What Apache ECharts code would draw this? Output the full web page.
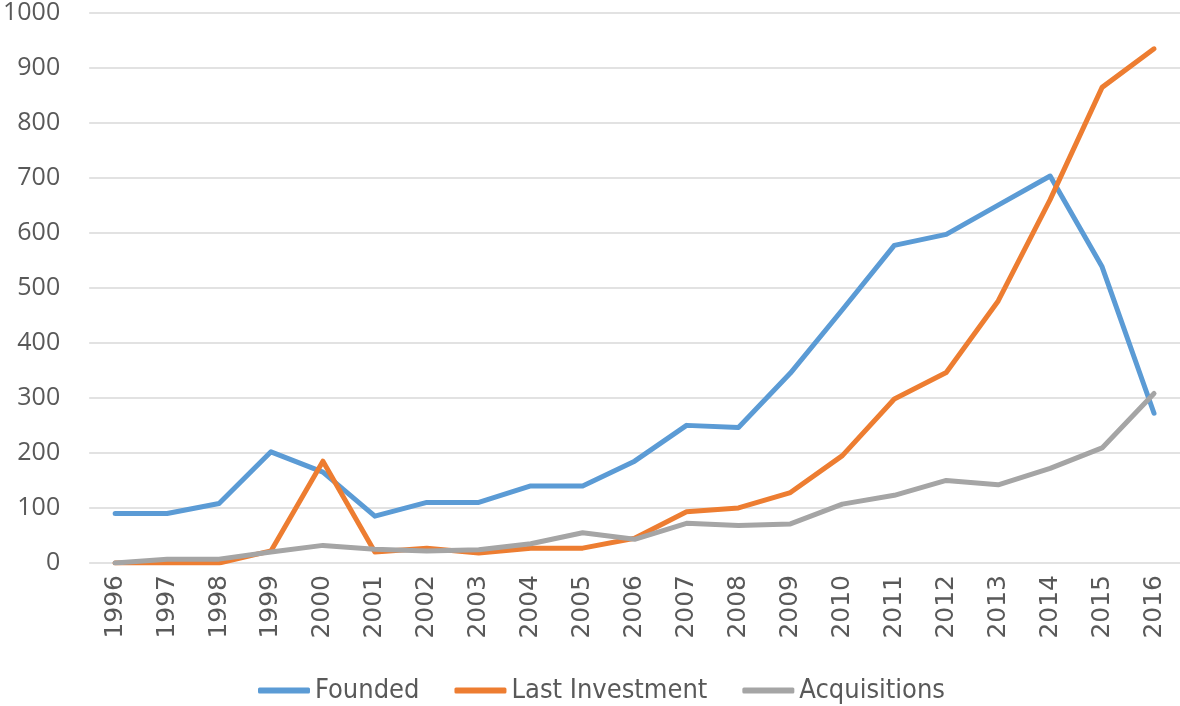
<!DOCTYPE html>
<html>
<head>
<meta charset="utf-8">
<script src="https://cdn.jsdelivr.net/npm/echarts@6/dist/echarts.min.js"></script>
<style>
html,body{margin:0;padding:0;background:#fff;}
#chart{width:1180px;height:706px;}
</style>
</head>
<body>
<div id="chart"></div>
<script>
const years = ['1996','1997','1998','1999','2000','2001','2002','2003','2004','2005','2006','2007','2008','2009','2010','2011','2012','2013','2014','2015','2016'];
const founded = [90,90,108,202,165,85,110,110,140,140,185,250,246,345,460,577,597,650,703,538,272];
const lastInvestment = [0,0,0,22,185,20,27,18,27,27,45,93,100,128,195,298,346,476,660,864,934];
const acquisitions = [0,7,7,20,32,25,22,24,35,55,43,72,68,71,107,123,150,142,172,209,308];
const yTicks = [0,100,200,300,400,500,600,700,800,900,1000];

const chart = echarts.init(document.getElementById('chart'));
const lbl = '#595959';
function mk(name, data, color){
  return {name, type:'line', data, symbol:'none', smooth:false,
    lineStyle:{width:5, color, cap:'round', join:'round'}, itemStyle:{color}};
}
chart.setOption({
  animation:false,
  grid:{left:87, right:0, top:9, bottom:143, containLabel:false},
  legend:{
    top:677, left:258, padding:0,
    icon:'roundRect', itemWidth:52, itemHeight:6, itemGap:35,
    textStyle:{fontFamily:'DejaVu Sans Condensed', fontSize:27, color:lbl},
    data:['Founded','Last Investment','Acquisitions']
  },
  xAxis:{
    type:'category', data:years, boundaryGap:true,
    axisLine:{show:false}, axisTick:{show:false},
    axisLabel:{rotate:90, margin:12, color:lbl, fontSize:25, fontFamily:'DejaVu Sans', interval:0}
  },
  yAxis:{
    type:'value', min:yTicks[0], max:yTicks[yTicks.length-1], interval:100,
    axisLine:{show:false}, axisTick:{show:false},
    axisLabel:{margin:29, color:lbl, fontSize:25, fontFamily:'Open Sans', formatter:v=>String(v)},
    splitLine:{lineStyle:{color:'#d9d9d9', width:1.5}}
  },
  series:[
    mk('Founded', founded, '#5B9BD5'),
    mk('Last Investment', lastInvestment, '#ED7D31'),
    mk('Acquisitions', acquisitions, '#A5A5A5')
  ]
});
</script>
</body>
</html>
